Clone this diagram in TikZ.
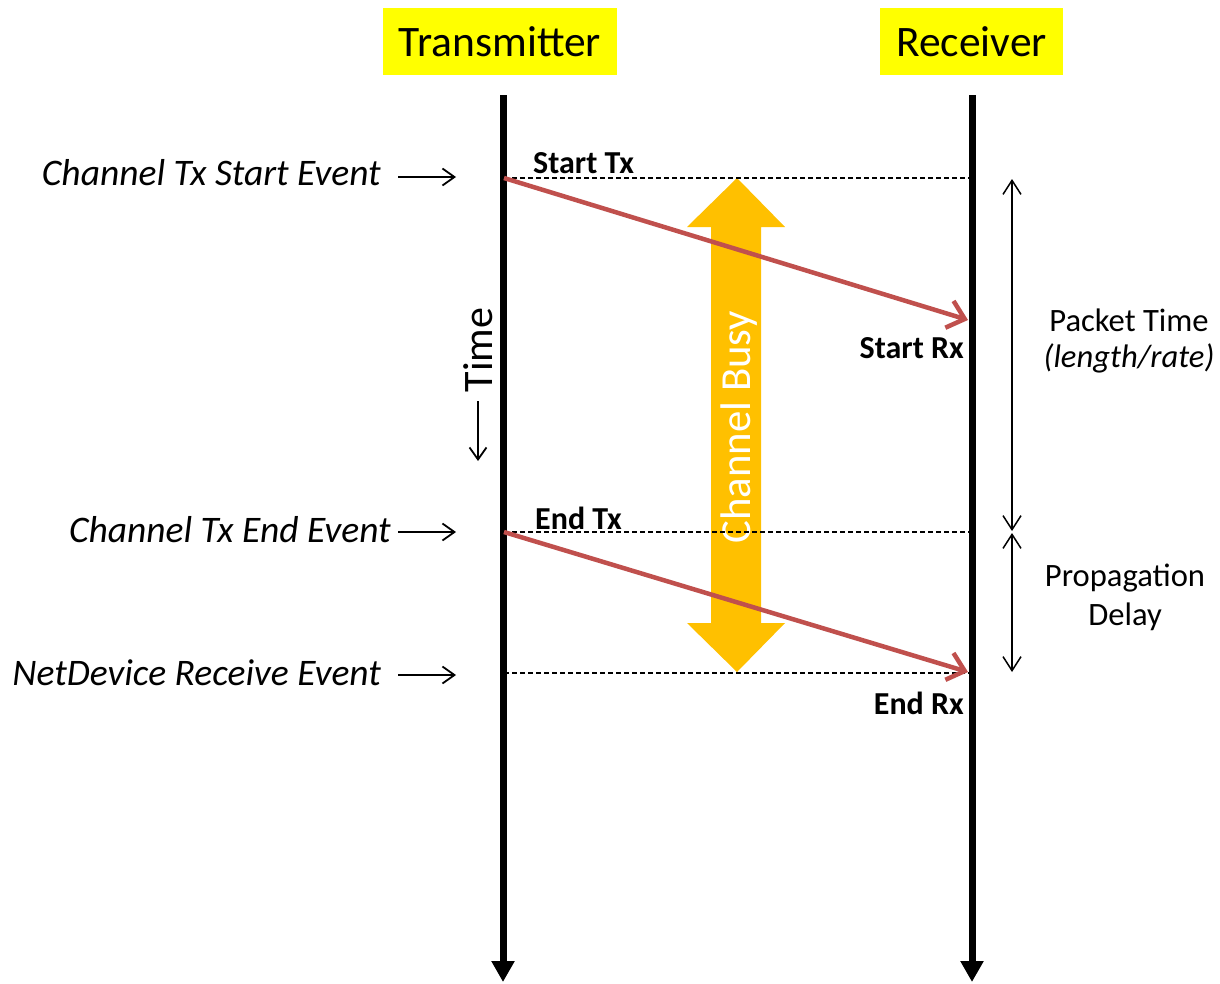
\documentclass[tikz,border=0pt]{standalone}
\usepackage{fontspec}
\setmainfont{Carlito}
\usetikzlibrary{arrows.meta}
\definecolor{busyorange}{HTML}{FFC000}
\definecolor{msgred}{HTML}{C0504D}
\definecolor{titleyellow}{HTML}{FFFF00}

\begin{document}
\begin{tikzpicture}[x=1pt,y=-1pt,
  title/.style={fill=titleyellow, inner sep=0pt, font=\fontsize{43.5}{52}\selectfont},
  lifeline/.style={line width=7pt, -{Triangle[length=21pt,width=22pt]}},
  guide/.style={line width=1.5pt, dash pattern=on 5pt off 3pt},
  msg/.style={msgred, line width=4.5pt, -{Straight Barb[length=16pt,width=28pt]}},
  evlabel/.style={inner sep=0pt, font=\fontsize{37.5}{45}\selectfont\itshape},
  evarrow/.style={line width=1.8pt, -{Straight Barb[length=12pt,width=17pt]}},
  marker/.style={inner sep=0pt, font=\fontsize{32}{38}\selectfont\bfseries},
  spanarrow/.style={line width=1.5pt, {Straight Barb[length=14pt,width=18pt]}-{Straight Barb[length=14pt,width=18pt]}},
  note/.style={inner sep=0pt, align=center, font=\fontsize{32.6}{40}\selectfont},
]
\useasboundingbox[fill=white] (0,0) rectangle (1220,983);

% participant headers
\node[title, minimum width=234pt, minimum height=67pt] (tx) at (500,41.5) {Transmitter};
\node[title, minimum width=183pt, minimum height=67pt] (rx) at (971.5,41.5) {Receiver};

% key instants on both lifelines
\coordinate (txtop) at (503,95);
\coordinate (txbot) at (503,982);
\coordinate (rxtop) at (972,95);
\coordinate (rxbot) at (972,982);
\coordinate (txs) at (504,178);
\coordinate (rxs) at (972,178);
\coordinate (txe) at (504,532);
\coordinate (rxe) at (972,532);
\coordinate (txr) at (504,673);
\coordinate (rxr) at (972,673);
\coordinate (rxa) at (968,320);
\coordinate (rxb) at (968,672);

% channel busy double arrow
\fill[busyorange] (737,178) -- (785,227) -- (761,227) -- (761,623) -- (785,623)
  -- (737,672) -- (687,623) -- (711,623) -- (711,227) -- (687,227) -- cycle;
\node[rotate=90, text=white, inner sep=0pt, font=\fontsize{42.8}{50}\selectfont] (busy) at (739,427) {Channel Busy};

% dashed time guides
\draw[guide] (txs) -- (rxs);
\draw[guide] (txe) -- (rxe);
\draw[guide] (txr) -- (rxr);

% lifelines
\draw[lifeline] (txtop) -- (txbot);
\draw[lifeline] (rxtop) -- (rxbot);

% transmissions
\draw[msg] (txs) -- (rxa);
\draw[msg] (txe) -- (rxb);

% time direction
\node[rotate=90, inner sep=0pt, font=\fontsize{42}{50}\selectfont] (time) at (478,350) {Time};
\coordinate (time1) at (478,401);
\coordinate (time2) at (478,461);
\draw[evarrow] (time1) -- (time2);

% event labels on the left
\node[evlabel, anchor=east] (ev1) at (381,173) {Channel Tx Start Event};
\node[evlabel, anchor=east] (ev2) at (391,530) {Channel Tx End Event};
\node[evlabel, anchor=east] (ev3) at (381,673) {NetDevice Receive Event};
\coordinate (ev1a) at (398,177);
\coordinate (ev1b) at (456,177);
\coordinate (ev2a) at (398,532);
\coordinate (ev2b) at (456,532);
\coordinate (ev3a) at (398,675);
\coordinate (ev3b) at (456,675);
\draw[evarrow] (ev1a) -- (ev1b);
\draw[evarrow] (ev2a) -- (ev2b);
\draw[evarrow] (ev3a) -- (ev3b);

% markers along the lifelines
\node[marker, anchor=west] (stx) at (533,163) {Start Tx};
\node[marker, anchor=west] (etx) at (535,518) {End Tx};
\node[marker, anchor=east] (srx) at (964,348) {Start Rx};
\node[marker, anchor=east] (erx) at (964,703) {End Rx};

% durations on the right
\coordinate (pt1) at (1012,179);
\coordinate (pt2) at (1012,531);
\coordinate (pd1) at (1012,533);
\coordinate (pd2) at (1012,672);
\draw[spanarrow] (pt1) -- (pt2);
\draw[spanarrow] (pd1) -- (pd2);
\node[note] (ptime) at (1129,320) {Packet Time};
\node[note, font=\fontsize{32.6}{40}\selectfont\itshape] (prate) at (1129,358) {(length/rate)};
\node[note] (prop) at (1125,578) {Propagation};
\node[note] (delay) at (1125,617) {Delay};
\end{tikzpicture}
\end{document}
